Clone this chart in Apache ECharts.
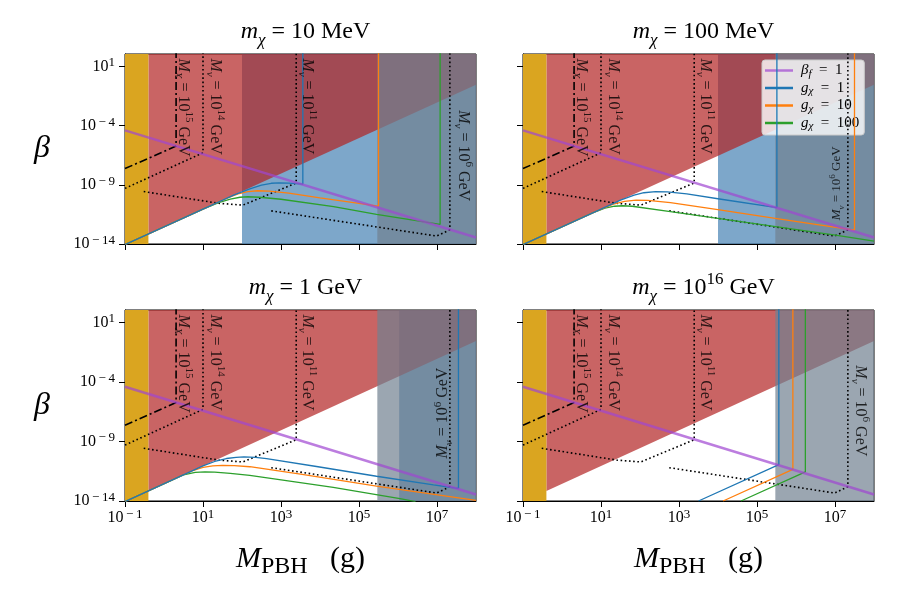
<!DOCTYPE html>
<html>
<head>
<meta charset="utf-8">
<script src="https://cdn.jsdelivr.net/npm/echarts@6/dist/echarts.min.js"></script>
<style>
  html, body { margin: 0; padding: 0; background: #fff; }
  #chart { width: 900px; height: 600px; }
</style>
</head>
<body>
<div id="chart"></div>
<script>
// every value below is a log10 exponent: x = log10(M_PBH / g), y = log10(beta)
const xTicks = [-1, 1, 3, 5, 7];
const yTicks = [-14, -9, -4, 1];
const xMin = -1, xMax = 8, yMin = -14, yMax = 2.05;

// shaded regions
const goldEnd = -0.4;                  // left edge band
const grayStart = 5.47;                // grey band to the right
const blueStart = [2.0, 4.0, 6.03, null];
const redEdge = [[-0.4, -13.15], [8, -0.55]];   // lower edge of red region

// lines shared by all panels
const betaF = [[-1, -4.4], [8, -13.45]];
const mX15 = [[-1, -7.63], [0.31, -5.73], [0.31, 2.5]];
const mNu14 = [[-1, -9.3], [1.0, -6.3], [1.0, 2.5]];
const mNu11 = [[-0.52, -9.57], [1.4, -10.56], [2.02, -10.72], [3.39, -8.85], [3.39, 2.5]];
const mNu6 = [[2.75, -11.2], [6.99, -13.33], [7.33, -12.8], [7.33, 2.5]];

// g_chi curves per panel (10 MeV, 100 MeV, 1 GeV, 1e16 GeV)
const g1 = [
  [[-1, -14.05], [1.0, -11.05], [1.8, -9.85], [2.2, -9.35], [2.5, -9.02], [2.75, -8.87], [2.95, -8.83], [3.2, -8.86], [3.56, -8.95], [3.56, 2.5]],
  [[-1, -14.05], [1.0, -11.05], [1.5, -10.3], [1.85, -9.87], [2.1, -9.67], [2.4, -9.58], [2.7, -9.6], [3.2, -9.77], [4.04, -10.2], [5.51, -10.93], [5.51, 2.5]],
  [[-1, -14.05], [1.0, -11.05], [1.3, -10.68], [1.6, -10.43], [1.85, -10.33], [2.05, -10.3], [2.35, -10.34], [2.63, -10.44], [3.91, -11.1], [5.45, -11.92], [6.91, -12.65], [7.55, -12.95], [7.55, 2.5]],
  [[3.5, -14.0], [5.56, -10.94], [5.56, 2.5]]
];
const g10 = [
  [[-1, -14.05], [1.0, -11.05], [1.6, -10.15], [1.9, -9.76], [2.15, -9.57], [2.4, -9.5], [2.7, -9.53], [3.2, -9.7], [4.0, -10.1], [5.5, -10.8], [5.5, 2.5]],
  [[-1, -14.05], [0.9, -11.2], [1.3, -10.65], [1.6, -10.4], [1.9, -10.29], [2.2, -10.31], [2.78, -10.5], [4.04, -11.12], [5.51, -11.85], [7.5, -12.82], [7.5, 2.5]],
  [[-1, -14.05], [0.7, -11.5], [1.0, -11.18], [1.25, -11.05], [1.5, -11.0], [1.8, -11.02], [2.2, -11.12], [3.5, -11.75], [5.45, -12.75], [8, -13.95]],
  [[4.13, -14.0], [5.92, -11.34], [5.92, 2.5]]
];
const g100 = [
  [[-1, -14.05], [1.0, -11.05], [1.4, -10.5], [1.7, -10.2], [1.95, -10.05], [2.15, -10.01], [2.45, -10.05], [3.0, -10.22], [4.35, -10.84], [5.45, -11.5], [7.08, -12.34], [7.08, 2.5]],
  [[-1, -14.05], [0.8, -11.35], [1.1, -10.97], [1.35, -10.81], [1.55, -10.77], [1.8, -10.81], [2.78, -11.27], [4.04, -11.85], [7.01, -13.25], [8, -13.75]],
  [[-1, -14.05], [0.5, -11.8], [0.8, -11.6], [1.05, -11.55], [1.3, -11.57], [1.7, -11.68], [2.2, -11.85], [4.34, -12.85], [6.05, -13.8], [6.45, -14.05]],
  [[4.59, -14.0], [6.24, -11.56], [6.24, 2.5]]
];

// rotated text labels: [x, y] of the text start
const lblMX = [0.5, 1.68];
const lblNu14 = [1.32, 1.68];
const lblNu11 = [3.67, 1.68];
const lblNu6 = [[7.67, -2.7], [7.05, -12.0], [7.16, -10.43], [7.65, -2.6]];

const FONT = "'Liberation Serif', 'DejaVu Serif', serif";
const C_GOLD = '#DAA520';
const C_RED = 'rgba(178,34,34,0.7)';
const C_BLUE = 'rgba(70,130,180,0.7)';
const C_GRAY = 'rgba(112,128,144,0.7)';
const C_PURPLE = 'rgba(160,70,210,0.7)';
const C_G1 = '#1f77b4', C_G10 = '#ff7f0e', C_G100 = '#2ca02c';
const EQ = ' = ';
const EQW = '\u2002=\u2002';

const grids = [
  { left: 125, top: 54, width: 351, height: 190 },
  { left: 523, top: 54, width: 351, height: 190 },
  { left: 125, top: 310, width: 351, height: 191 },
  { left: 523, top: 310, width: 351, height: 191 }
];

// rich styles for math-like text: sub/superscripts are shifted by vertical alignment in a taller line
function mathRich(fs, ss, lh) {
  ss = ss || Math.round(fs * 0.7);
  lh = lh || Math.round(fs * 1.4);
  const base = { fontFamily: FONT, fontSize: fs, fontWeight: 'normal', color: '#000', lineHeight: lh };
  const small = { fontFamily: FONT, fontSize: ss, fontWeight: 'normal', color: '#000', lineHeight: ss };
  return {
    r: base,
    i: Object.assign({}, base, { fontStyle: 'italic' }),
    sub: Object.assign({}, small, { fontStyle: 'italic', verticalAlign: 'bottom' }),
    subr: Object.assign({}, small, { verticalAlign: 'bottom' }),
    sup: Object.assign({}, small, { verticalAlign: 'top' })
  };
}

// tick labels: 10^n, with the spaced minus of the original
const expText = (v) => '{r|10}{sup|' + (v < 0 ? '\u2009\u2212\u2009' + (-v) : v) + '}';

const titleTexts = [
  '{i|m}{sub|\u03c7}{r|' + EQ + '10 MeV}',
  '{i|m}{sub|\u03c7}{r|' + EQ + '100 MeV}',
  '{i|m}{sub|\u03c7}{r|' + EQ + '1 GeV}',
  '{i|m}{sub|\u03c7}{r|' + EQ + '10}{sup|16}{r| GeV}'
];

function band(i, x0, x1, color, z) {
  return {
    type: 'custom', xAxisIndex: i, yAxisIndex: i, clip: true, silent: true, z,
    data: [[x0, x1]],
    renderItem: (params, api) => {
      const a = api.coord([api.value(0), yMax]);
      const b = api.coord([api.value(1), yMin]);
      return { type: 'rect', shape: { x: a[0], y: a[1], width: b[0] - a[0], height: b[1] - a[1] }, style: { fill: color } };
    }
  };
}

function redRegion(i) {
  return {
    type: 'custom', xAxisIndex: i, yAxisIndex: i, clip: true, silent: true, z: 2,
    data: [[redEdge[0][0], redEdge[0][1]]],
    renderItem: (params, api) => {
      const pts = redEdge.map((p) => api.coord(p));
      pts.push(api.coord([redEdge[redEdge.length - 1][0], yMax]));
      pts.push(api.coord([redEdge[0][0], yMax]));
      return { type: 'polygon', shape: { points: pts }, style: { fill: C_RED } };
    }
  };
}

function line(i, name, data, color, width, type, z) {
  return {
    type: 'line', name, xAxisIndex: i, yAxisIndex: i, data,
    symbol: 'none', showSymbol: false, silent: true, z,
    lineStyle: { color, width, type }, itemStyle: { color }
  };
}

function textMark(i, pos, text, fs, rot) {
  return {
    type: 'scatter', xAxisIndex: i, yAxisIndex: i, data: [pos], symbolSize: 1, silent: true, z: 10,
    itemStyle: { color: 'rgba(0,0,0,0)' },
    label: {
      show: true, position: 'inside', align: 'left', verticalAlign: 'middle', rotate: rot,
      formatter: () => text, rich: mathRich(fs)
    }
  };
}

const series = [];
for (let i = 0; i < 4; i++) {
  if (blueStart[i] !== null) series.push(band(i, blueStart[i], xMax, C_BLUE, 1));
  series.push(redRegion(i));
  series.push(band(i, grayStart, xMax, C_GRAY, 3));
  series.push(band(i, xMin, goldEnd, C_GOLD, 4));
  series.push(line(i, null, mNu14, '#000', 1.6, [1.6, 2.6], 5));
  series.push(line(i, null, mNu11, '#000', 1.6, [1.6, 2.6], 5));
  series.push(line(i, null, mNu6, '#000', 1.6, [1.6, 2.6], 5));
  series.push(line(i, null, mX15, '#000', 1.6, [8, 3, 2, 3], 5));
  series.push(line(i, 'g100', g100[i], C_G100, 1.3, 'solid', 6));
  series.push(line(i, 'g10', g10[i], C_G10, 1.3, 'solid', 6));
  series.push(line(i, 'g1', g1[i], C_G1, 1.3, 'solid', 6));
  series.push(line(i, 'beta', betaF, C_PURPLE, 2.5, 'solid', 7));
  series.push(textMark(i, lblMX, '{i|M}{sub|X}{r|' + EQ + '10}{sup|15}{r| GeV}', 16, -90));
  series.push(textMark(i, lblNu14, '{i|M}{sub|\u03bd}{r|' + EQ + '10}{sup|14}{r| GeV}', 16, -90));
  series.push(textMark(i, lblNu11, '{i|M}{sub|\u03bd}{r|' + EQ + '10}{sup|11}{r| GeV}', 16, -90));
  series.push(textMark(i, lblNu6[i], '{i|M}{sub|\u03bd}{r|' + EQ + '10}{sup|6}{r| GeV}', i === 1 ? 13 : 16, (i === 1 || i === 2) ? 90 : -90));
}

const legendNames = {
  beta: '{i|\u03b2}{sub|f}{r|' + EQW + '1}',
  g1: '{i|g}{sub|\u03c7}{r|' + EQW + '1}',
  g10: '{i|g}{sub|\u03c7}{r|' + EQW + '10}',
  g100: '{i|g}{sub|\u03c7}{r|' + EQW + '100}'
};

const option = {
  animation: false,
  backgroundColor: '#fff',
  title: titleTexts.map((t, i) => ({
    text: t,
    left: grids[i].left + grids[i].width / 2,
    top: i < 2 ? 10 : 266,
    textAlign: 'center',
    textStyle: { fontWeight: 'normal', rich: mathRich(24) }
  })),
  legend: {
    data: ['beta', 'g1', 'g10', 'g100'],
    orient: 'vertical',
    left: 762, top: 60,
    icon: 'rect', itemWidth: 28, itemHeight: 2.5, itemGap: 1,
    selectedMode: false,
    backgroundColor: 'rgba(255,255,255,0.8)',
    borderColor: '#ccc', borderWidth: 1, borderRadius: 3,
    padding: [3, 5, 3, 3],
    formatter: (n) => legendNames[n],
    textStyle: { padding: [0, 0, 0, 3], rich: mathRich(15, 11, 18) }
  },
  grid: grids.map((g) => Object.assign({ show: true, borderColor: '#000', borderWidth: 1, backgroundColor: 'transparent' }, g)),
  xAxis: grids.map((g, i) => ({
    type: 'value', gridIndex: i, min: xMin, max: xMax,
    axisLine: { show: true, onZero: false, lineStyle: { color: '#000', width: 1 } },
    axisTick: { show: true, length: 6, customValues: xTicks, lineStyle: { color: '#000' } },
    axisLabel: { show: i >= 2, customValues: xTicks, margin: 7, formatter: (v) => expText(v), rich: mathRich(16, 13, 20) },
    splitLine: { show: false },
    name: i >= 2 ? '{i|M}{subr|PBH}{r|\u2002 (g)}' : '',
    nameLocation: 'middle', nameGap: 38,
    nameTextStyle: { rich: mathRich(30, 24, 40) }
  })),
  yAxis: grids.map((g, i) => ({
    type: 'value', gridIndex: i, min: yMin, max: yMax,
    axisLine: { show: true, onZero: false, lineStyle: { color: '#000', width: 1 } },
    axisTick: { show: true, length: 6, customValues: yTicks, lineStyle: { color: '#000' } },
    axisLabel: { show: i % 2 === 0, customValues: yTicks, margin: 10, formatter: (v) => expText(v), rich: mathRich(16, 13, 20) },
    splitLine: { show: false },
    name: i % 2 === 0 ? '{i|\u03b2}' : '',
    nameLocation: 'middle', nameRotate: 0, nameGap: 75,
    nameTextStyle: { rich: mathRich(32) }
  })),
  series
};

const chart = echarts.init(document.getElementById('chart'));
chart.setOption(option);
</script>
</body>
</html>
